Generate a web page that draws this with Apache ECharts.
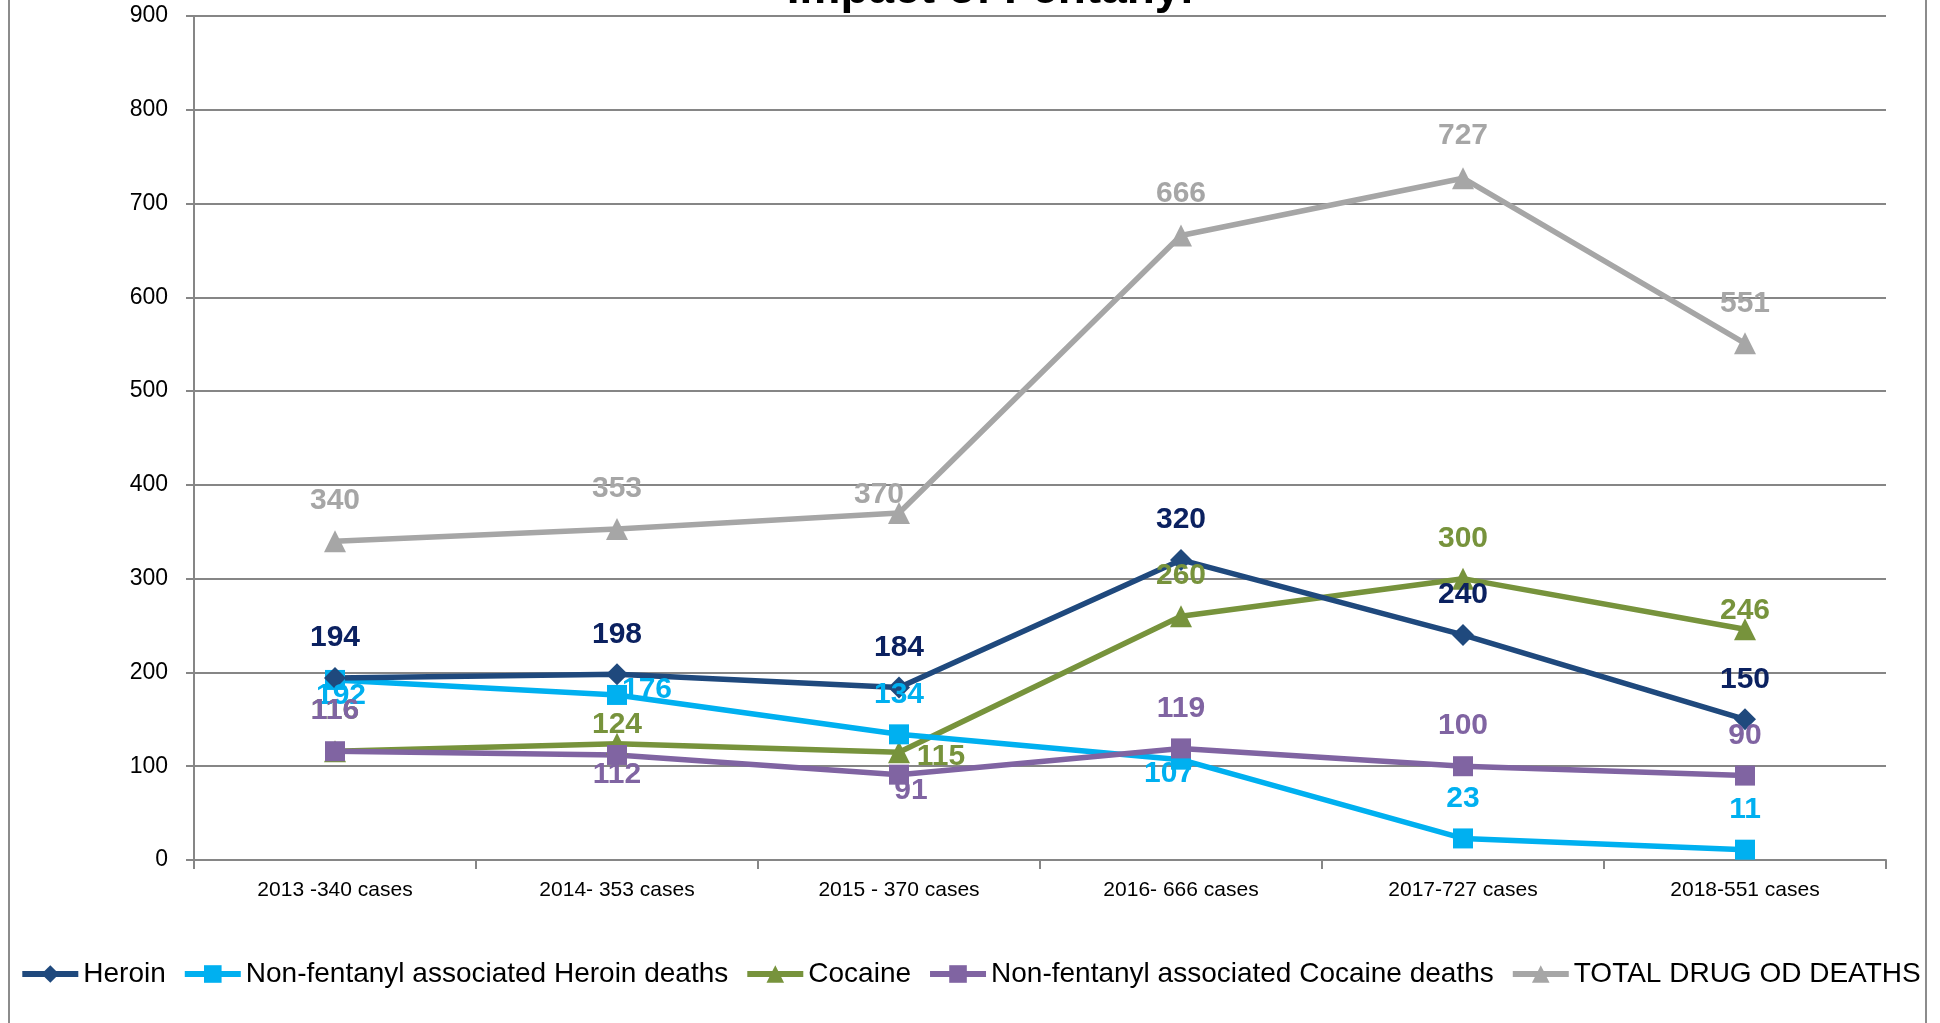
<!DOCTYPE html>
<html>
<head>
<meta charset="utf-8">
<script src="https://cdn.jsdelivr.net/npm/echarts@6/dist/echarts.min.js"></script>
<style>
  html, body { margin: 0; padding: 0; background: #fff; }
  #main { width: 1940px; height: 1023px; }
</style>
</head>
<body>
<div id="main"></div>
<script>
// categories and series values
const categories = ['2013 -340 cases', '2014- 353 cases', '2015 - 370 cases', '2016- 666 cases', '2017-727 cases', '2018-551 cases'];
const heroin = [194, 198, 184, 320, 240, 150];
const nfHeroin = [192, 176, 134, 107, 23, 11];
const cocaine = [116, 124, 115, 260, 300, 246];
const nfCocaine = [116, 112, 91, 119, 100, 90];
const totalDeaths = [340, 353, 370, 666, 727, 551];
const yTicks = { min: 0, max: 900, step: 100 };

// label placement relative to the marker (like the hand-moved labels in the original)
const up = [0, -40];
const heroinShift = [up, up, up, up, up, up];
const nfHeroinShift = [[6, 16], [30, -5], up, [-12, 14], up, up];
const cocaineShift = [up, [0, -19], [42, 5], up, up, [0, -19]];
const nfCocaineShift = [up, [0, 20], [12, 16], up, up, up];
const totalShift = [up, up, [-20, -18], [0, -42], [0, -43], up];

const font = 'Liberation Sans';

function makeSeries(name, values, shifts, color, labelColor, symbol, size) {
    return {
        name: name,
        type: 'line',
        data: values.map(function (v, i) {
            return { value: v, label: { offset: shifts[i] } };
        }),
        symbol: symbol,
        symbolSize: size,
        lineStyle: { color: color, width: 5.5 },
        itemStyle: { color: color },
        label: {
            show: true,
            position: 'inside',
            color: labelColor,
            fontFamily: font,
            fontWeight: 'bold',
            fontSize: 30
        },
        emphasis: { disabled: true },
        animation: false
    };
}

let myChart = echarts.init(document.getElementById('main'));
myChart.setOption({
    backgroundColor: '#fff',
    textStyle: { fontFamily: font },
    graphic: [
        {
            type: 'rect',
            shape: { x: 9, y: -10, width: 1917, height: 1050 },
            style: { fill: 'none', stroke: '#8c8c8c', lineWidth: 2 },
            silent: true
        },
        {
            type: 'text',
            x: 990,
            y: -10,
            style: {
                text: 'Impact of Fentanyl',
                font: 'bold 46px "Liberation Sans"',
                fill: '#000',
                align: 'center',
                verticalAlign: 'middle'
            },
            silent: true
        }
    ],
    grid: { left: 194, right: 54, top: 16, bottom: 163 },
    legend: {
        bottom: 30,
        left: 'center',
        itemWidth: 56,
        itemHeight: 22,
        itemGap: 16,
        lineStyle: { width: 6 },
        textStyle: { fontFamily: font, fontSize: 28, color: '#000' },
        data: ['Heroin', 'Non-fentanyl associated Heroin deaths', 'Cocaine', 'Non-fentanyl associated Cocaine deaths', 'TOTAL DRUG OD DEATHS']
    },
    xAxis: {
        type: 'category',
        data: categories,
        boundaryGap: true,
        axisLine: { lineStyle: { color: '#868686', width: 2 } },
        axisTick: { show: true, length: 9, lineStyle: { color: '#868686', width: 2 } },
        axisLabel: { color: '#000', fontSize: 21, fontFamily: font, margin: 20 }
    },
    yAxis: {
        type: 'value',
        min: yTicks.min,
        max: yTicks.max,
        interval: yTicks.step,
        axisLine: { show: true, lineStyle: { color: '#868686', width: 2 } },
        axisTick: { show: true, length: 8, lineStyle: { color: '#868686', width: 2 } },
        axisLabel: { color: '#000', fontSize: 23, fontFamily: font, margin: 26 },
        splitLine: { lineStyle: { color: '#868686', width: 2 } }
    },
    series: [
        makeSeries('TOTAL DRUG OD DEATHS', totalDeaths, totalShift, '#A6A6A6', '#A6A6A6', 'triangle', 22),
        makeSeries('Cocaine', cocaine, cocaineShift, '#77933C', '#77933C', 'triangle', 22),
        makeSeries('Non-fentanyl associated Heroin deaths', nfHeroin, nfHeroinShift, '#00B0F0', '#00B0F0', 'rect', 20),
        makeSeries('Non-fentanyl associated Cocaine deaths', nfCocaine, nfCocaineShift, '#8064A2', '#8064A2', 'rect', 20),
        makeSeries('Heroin', heroin, heroinShift, '#1F497D', '#0B2160', 'diamond', 22)
    ]
});
window.onresize = function () {
    myChart.resize();
};
</script>
</body>
</html>
